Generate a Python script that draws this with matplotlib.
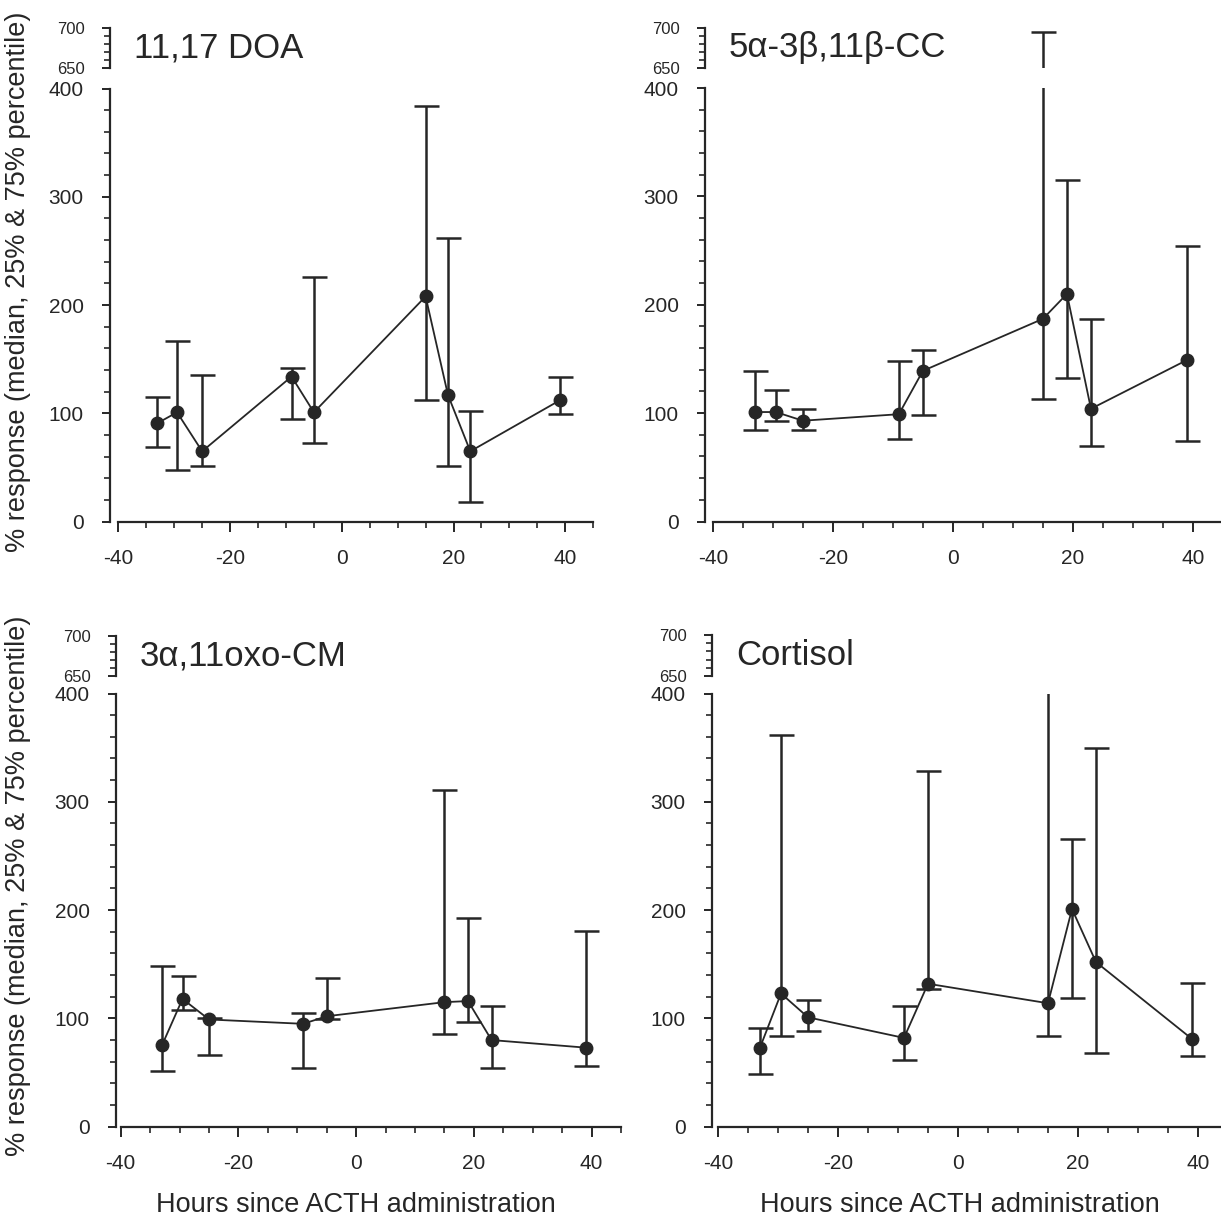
import numpy as np
import matplotlib
matplotlib.use("Agg")
import matplotlib.pyplot as plt
from matplotlib.ticker import MultipleLocator, FixedLocator
import matplotlib.transforms as mtransforms

plt.rcParams["font.family"] = ["Liberation Sans", "DejaVu Sans"]
plt.rcParams["axes.unicode_minus"] = False

# hours since ACTH administration (shared sampling times)
hours = np.array([-33, -29.5, -25, -9, -5, 15, 19, 23, 39])

# % response: median, 25th and 75th percentile per steroid
doa_med = np.array([91, 101, 65, 134, 101, 208, 117, 65, 112])
doa_q25 = np.array([69, 48, 51, 95, 73, 112, 51, 18, 99])
doa_q75 = np.array([115, 167, 135, 142, 226, 384, 262, 102, 134])

cc_med = np.array([101, 101, 93, 99, 139, 187, 210, 104, 149])
cc_q25 = np.array([84, 93, 84, 76, 98, 113, 132, 70, 74])
cc_q75 = np.array([139, 121, 104, 148, 158, 695, 315, 187, 254])

cm_med = np.array([75, 118, 99, 95, 102, 115, 116, 80, 73])
cm_q25 = np.array([51, 108, 66, 54, 99, 86, 97, 54, 56])
cm_q75 = np.array([148, 139, 100, 105, 137, 311, 193, 111, 181])

cort_med = np.array([73, 123, 101, 82, 132, 114, 201, 152, 81])
cort_q25 = np.array([49, 84, 88, 62, 127, 84, 119, 68, 65])
cort_q75 = np.array([91, 362, 117, 111, 328, 450, 266, 350, 133])

titles = ["11,17 DOA", "5α-3β,11β-CC", "3α,11oxo-CM", "Cortisol"]
ylabel = "% response (median, 25% & 75% percentile)"
xlabel = "Hours since ACTH administration"

INK = "#262626"
W, H = 1221, 1224


def add_px_axes(fig, x0, x1, ytop, ybot):
    return fig.add_axes([x0 / W, 1 - ybot / H, (x1 - x0) / W, (ybot - ytop) / H])


def draw_panel(fig, low_box, top_box, xlim, title, med, q25, q75):
    ax = add_px_axes(fig, *low_box)
    ax_top = add_px_axes(fig, *top_box)
    for a, ylim in ((ax, (0, 400)), (ax_top, (650, 700))):
        a.errorbar(hours, med, yerr=[med - q25, q75 - med], fmt="-o", color=INK,
                   lw=1.3, ms=9, elinewidth=1.8, capsize=9, capthick=1.8)
        a.set_xlim(*xlim)
        a.set_ylim(*ylim)
        a.patch.set_visible(False)
        for s in ("top", "right"):
            a.spines[s].set_visible(False)
        a.spines["left"].set_linewidth(1.6)
        a.spines["left"].set_color(INK)
        a.tick_params(axis="y", which="major", direction="out", length=6, width=1.4,
                      pad=13, labelsize=15, color=INK, labelcolor=INK)
        a.tick_params(axis="y", which="minor", direction="out", length=4, width=1.2, color=INK)

    ax_top.spines["bottom"].set_visible(False)
    ax_top.set_xticks([])
    ax_top.yaxis.set_major_locator(FixedLocator([650, 700]))
    ax_top.yaxis.set_minor_locator(MultipleLocator(10))
    ax_top.tick_params(axis="y", which="major", labelsize=12, pad=12)
    trans = mtransforms.offset_copy(ax_top.transAxes, fig=fig, x=24, y=0, units="dots")
    ax_top.text(0, 0.5, title, transform=trans, fontsize=25, color=INK, va="center", ha="left")

    ax.yaxis.set_major_locator(MultipleLocator(100))
    ax.yaxis.set_minor_locator(MultipleLocator(20))
    ax.xaxis.set_major_locator(FixedLocator([-40, -20, 0, 20, 40]))
    ax.xaxis.set_minor_locator(MultipleLocator(5))
    ax.spines["bottom"].set_bounds(-40, 45)
    ax.spines["bottom"].set_linewidth(1.6)
    ax.spines["bottom"].set_color(INK)
    ax.tick_params(axis="x", which="major", direction="out", length=7, width=1.4,
                   pad=13, labelsize=15, color=INK, labelcolor=INK)
    ax.tick_params(axis="x", which="minor", direction="out", length=4, width=1.2, color=INK)
    return ax


fig = plt.figure(figsize=(W / 100, H / 100), dpi=100)

draw_panel(fig, (110, 596, 88.5, 521.7), (110, 596, 28, 68), (-41.5, 45.5),
           titles[0], doa_med, doa_q25, doa_q75)
draw_panel(fig, (705, 1226, 88, 521.5), (705, 1226, 28, 68), (-41.3, 45.5),
           titles[1], cc_med, cc_q25, cc_q75)
draw_panel(fig, (116, 624, 693.5, 1126.7), (116, 624, 636, 676), (-40.8, 45.5),
           titles[2], cm_med, cm_q25, cm_q75)
draw_panel(fig, (712, 1231, 693.5, 1126.7), (712, 1231, 635, 676), (-41, 45.5),
           titles[3], cort_med, cort_q25, cort_q75)

for yc in (282, 886):
    fig.text(18 / W, 1 - yc / H, ylabel, rotation=90, fontsize=19.5, color=INK,
             ha="center", va="center")
for xc in (356, 960):
    fig.text(xc / W, 1 - 1205 / H, xlabel, fontsize=19.5, color=INK,
             ha="center", va="center")

fig.savefig("out.png", dpi=100)
